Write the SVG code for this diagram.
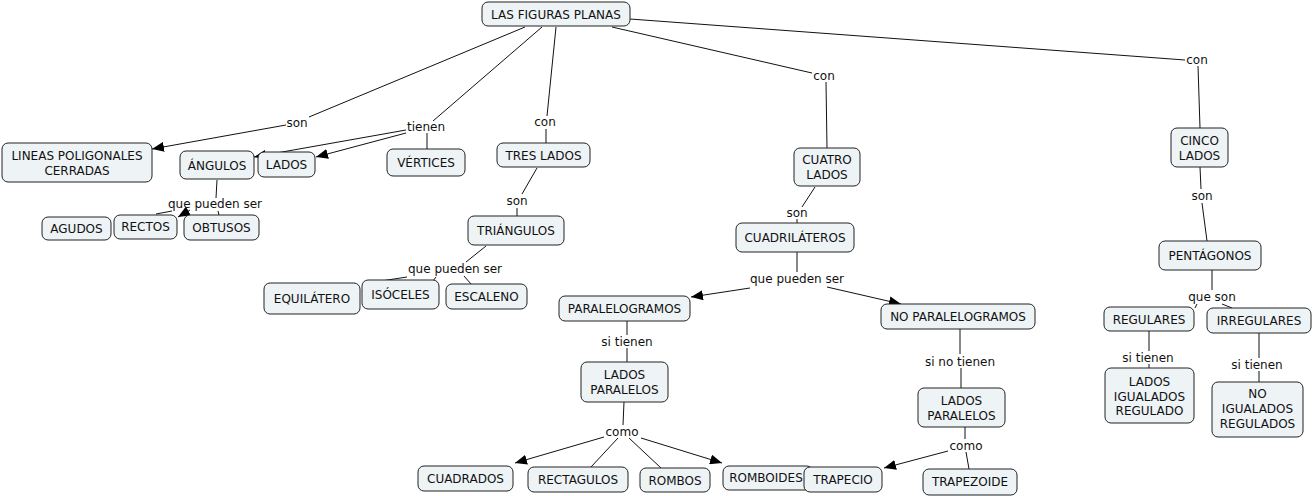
<svg xmlns="http://www.w3.org/2000/svg" width="1312" height="496" viewBox="0 0 1312 496">
<defs>
<marker id="arr" viewBox="0 0 12 10" refX="12" refY="5" markerWidth="12" markerHeight="10" markerUnits="userSpaceOnUse" orient="auto">
<path d="M0,0 L12,5 L0,10 Z" fill="#000"/>
</marker>
<style>
.n rect{fill:#eef3f6;stroke:#222;stroke-width:1;}
.n text,.lbl text{font-family:"DejaVu Sans",Verdana,sans-serif;font-size:12px;fill:#111;text-anchor:middle;}
.c line,.c polyline{stroke:#111;stroke-width:1;fill:none;}
.a{marker-end:url(#arr);}
</style>
</defs>
<rect width="1312" height="496" fill="#fff"/>
<g id="connectors" class="c">
<line x1="525" y1="27" x2="309" y2="117"/>
<line x1="286" y1="125" x2="152" y2="149" class="a"/>
<line x1="542" y1="27" x2="433" y2="121"/>
<line x1="406" y1="130" x2="254" y2="157" class="a"/>
<line x1="406" y1="133" x2="316" y2="157" class="a"/>
<line x1="427" y1="133" x2="427" y2="149"/>
<line x1="556" y1="27" x2="547" y2="116"/>
<line x1="546" y1="129" x2="546" y2="143"/>
<line x1="612" y1="27" x2="812" y2="73"/>
<line x1="826" y1="82" x2="827" y2="148"/>
<line x1="630" y1="19" x2="1185" y2="60"/>
<line x1="1198" y1="66" x2="1200" y2="128"/>
<line x1="537" y1="168" x2="522" y2="194"/>
<line x1="517" y1="208" x2="517" y2="216"/>
<line x1="217" y1="180" x2="216" y2="198"/>
<line x1="172" y1="211" x2="156" y2="214"/>
<line x1="190" y1="210" x2="178" y2="217" class="a"/>
<line x1="218" y1="211" x2="219" y2="215"/>
<line x1="486" y1="246" x2="466" y2="262"/>
<line x1="407" y1="277" x2="368" y2="283"/>
<line x1="436" y1="277" x2="433" y2="281"/>
<line x1="464" y1="276" x2="471" y2="284"/>
<line x1="815" y1="187" x2="802" y2="207"/>
<line x1="797" y1="219" x2="797" y2="223"/>
<line x1="797" y1="252" x2="797" y2="272"/>
<line x1="750" y1="288" x2="691" y2="297" class="a"/>
<line x1="827" y1="287" x2="901" y2="304" class="a"/>
<line x1="627" y1="321" x2="627" y2="335"/>
<line x1="627" y1="348" x2="627" y2="362"/>
<line x1="624" y1="402" x2="623" y2="425"/>
<line x1="604" y1="437" x2="515" y2="463" class="a"/>
<line x1="618" y1="438" x2="591" y2="467"/>
<line x1="629" y1="438" x2="661" y2="468"/>
<line x1="641" y1="438" x2="722" y2="463" class="a"/>
<line x1="960" y1="329" x2="960" y2="354"/>
<line x1="961" y1="368" x2="961" y2="388"/>
<line x1="965" y1="427" x2="965" y2="439"/>
<line x1="948" y1="451" x2="884" y2="468" class="a"/>
<line x1="966" y1="452" x2="969" y2="469"/>
<line x1="1200" y1="167" x2="1201" y2="189"/>
<line x1="1202" y1="203" x2="1207" y2="241"/>
<line x1="1212" y1="270" x2="1212" y2="290"/>
<line x1="1197" y1="304" x2="1195" y2="308"/>
<line x1="1222" y1="304" x2="1232" y2="308"/>
<line x1="1149" y1="331" x2="1149" y2="351"/>
<line x1="1149" y1="364" x2="1149" y2="368"/>
<line x1="1259" y1="333" x2="1259" y2="358"/>
<line x1="1259" y1="371" x2="1259" y2="382"/>
</g>
<g id="labels" class="lbl">
<text x="297" y="127">son</text>
<text x="426" y="131">tienen</text>
<text x="545" y="126">con</text>
<text x="824" y="80">con</text>
<text x="1197" y="64">con</text>
<text x="517" y="205">son</text>
<text x="215" y="208">que pueden ser</text>
<text x="455" y="273">que pueden ser</text>
<text x="797" y="217">son</text>
<text x="797" y="283">que pueden ser</text>
<text x="627" y="346">si tienen</text>
<text x="622" y="436">como</text>
<text x="960" y="366">si no tienen</text>
<text x="966" y="450">como</text>
<text x="1202" y="200">son</text>
<text x="1212" y="301">que son</text>
<text x="1148" y="362">si tienen</text>
<text x="1257" y="369">si tienen</text>
</g>
<g id="n1" class="n"><rect x="482" y="2" width="148" height="24" rx="6"/><text x="556" y="18.5">LAS FIGURAS PLANAS</text></g>
<g id="n2" class="n"><rect x="2" y="143" width="150" height="39" rx="6"/><text x="77" y="160">LINEAS POLIGONALES</text><text x="77" y="175">CERRADAS</text></g>
<g id="n3" class="n"><rect x="180" y="151" width="74" height="28" rx="6"/><text x="217" y="169.5">ÁNGULOS</text></g>
<g id="n4" class="n"><rect x="258" y="152" width="57" height="25" rx="6"/><text x="286.5" y="168.5">LADOS</text></g>
<g id="n5" class="n"><rect x="387" y="149" width="78" height="27" rx="6"/><text x="426" y="167">VÉRTICES</text></g>
<g id="n6" class="n"><rect x="497" y="143" width="93" height="24" rx="6"/><text x="543.5" y="159.5">TRES LADOS</text></g>
<g id="n7" class="n"><rect x="42" y="217" width="69" height="23" rx="6"/><text x="76.5" y="232.5">AGUDOS</text></g>
<g id="n8" class="n"><rect x="114" y="215" width="63" height="24" rx="6"/><text x="145.5" y="231">RECTOS</text></g>
<g id="n9" class="n"><rect x="184" y="215" width="75" height="25" rx="6"/><text x="221.5" y="231.5">OBTUSOS</text></g>
<g id="n10" class="n"><rect x="468" y="216" width="96" height="29" rx="6"/><text x="516" y="234.5">TRIÁNGULOS</text></g>
<g id="n11" class="n"><rect x="264" y="283" width="96" height="31" rx="6"/><text x="312" y="302.5">EQUILÁTERO</text></g>
<g id="n12" class="n"><rect x="362" y="280" width="77" height="29" rx="6"/><text x="400.5" y="298.5">ISÓCELES</text></g>
<g id="n13" class="n"><rect x="446" y="284" width="81" height="25" rx="6"/><text x="486.5" y="300.5">ESCALENO</text></g>
<g id="n14" class="n"><rect x="794" y="148" width="66" height="38" rx="6"/><text x="827" y="164">CUATRO</text><text x="827" y="179">LADOS</text></g>
<g id="n15" class="n"><rect x="736" y="223" width="118" height="29" rx="6"/><text x="795" y="241.5">CUADRILÁTEROS</text></g>
<g id="n16" class="n"><rect x="559" y="296" width="131" height="25" rx="6"/><text x="624.5" y="312.5">PARALELOGRAMOS</text></g>
<g id="n17" class="n"><rect x="881" y="304" width="154" height="25" rx="6"/><text x="958" y="320.5">NO PARALELOGRAMOS</text></g>
<g id="n18" class="n"><rect x="581" y="362" width="87" height="40" rx="6"/><text x="624.5" y="379">LADOS</text><text x="624.5" y="394">PARALELOS</text></g>
<g id="n19" class="n"><rect x="918" y="388" width="87" height="39" rx="6"/><text x="961.5" y="405">LADOS</text><text x="961.5" y="420">PARALELOS</text></g>
<g id="n20" class="n"><rect x="418" y="466" width="95" height="25" rx="6"/><text x="465.5" y="482.5">CUADRADOS</text></g>
<g id="n21" class="n"><rect x="528" y="467" width="100" height="25" rx="6"/><text x="578" y="483.5">RECTAGULOS</text></g>
<g id="n22" class="n"><rect x="640" y="468" width="70" height="24" rx="6"/><text x="675" y="484.5">ROMBOS</text></g>
<g id="n23" class="n"><rect x="723" y="466" width="90" height="24" rx="6"/><text x="766" y="482">ROMBOIDES</text></g>
<g id="n24" class="n"><rect x="804" y="467" width="78" height="25" rx="6"/><text x="843" y="483.5">TRAPECIO</text></g>
<g id="n25" class="n"><rect x="923" y="469" width="94" height="26" rx="6"/><text x="970" y="486">TRAPEZOIDE</text></g>
<g id="n26" class="n"><rect x="1171" y="128" width="57" height="39" rx="6"/><text x="1199.5" y="145">CINCO</text><text x="1199.5" y="160">LADOS</text></g>
<g id="n27" class="n"><rect x="1159" y="241" width="102" height="29" rx="6"/><text x="1210" y="259.5">PENTÁGONOS</text></g>
<g id="n28" class="n"><rect x="1104" y="307" width="90" height="24" rx="6"/><text x="1149" y="323.5">REGULARES</text></g>
<g id="n29" class="n"><rect x="1207" y="308" width="104" height="25" rx="6"/><text x="1259" y="324.5">IRREGULARES</text></g>
<g id="n30" class="n"><rect x="1105" y="368" width="89" height="55" rx="6"/><text x="1149.5" y="386">LADOS</text><text x="1149.5" y="401">IGUALADOS</text><text x="1149.5" y="415">REGULADO</text></g>
<g id="n31" class="n"><rect x="1212" y="382" width="91" height="55" rx="6"/><text x="1257.5" y="398">NO</text><text x="1257.5" y="413">IGUALADOS</text><text x="1257.5" y="428">REGULADOS</text></g>
</svg>
